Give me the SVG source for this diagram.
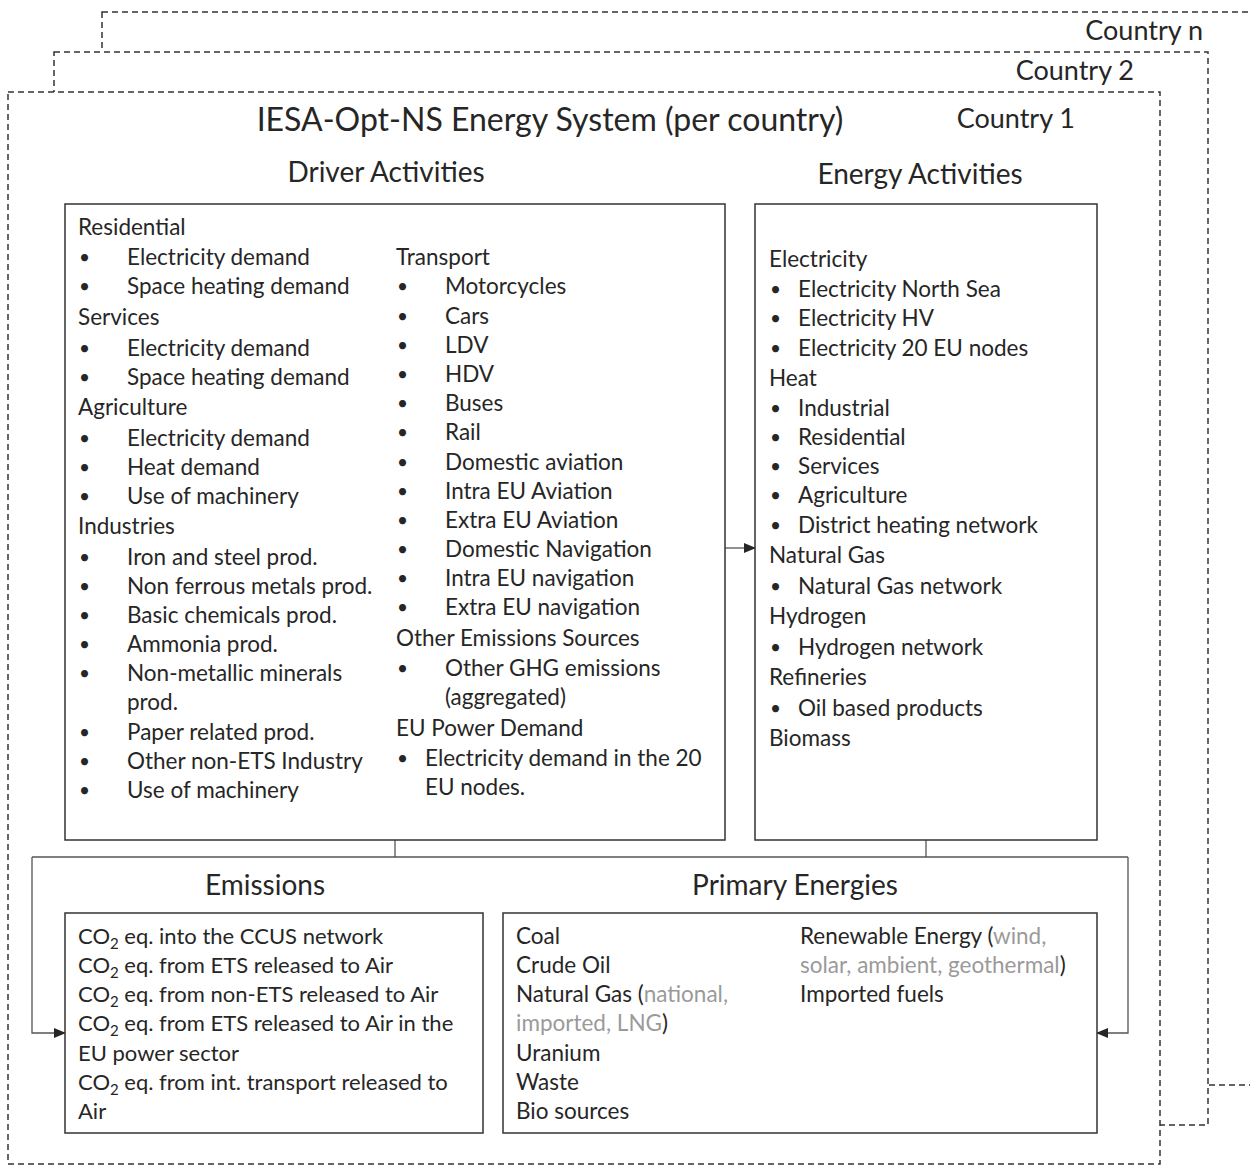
<svg xmlns="http://www.w3.org/2000/svg" width="1250" height="1166" viewBox="0 0 1250 1166">
<style>
text{font-family:Lato,"Noto Sans",sans-serif;fill:#262626;font-size:22.5px}
.b{font-size:19px}
.e{font-size:22px}
.sec{font-size:28px}
.title{font-size:32px}
.cty{font-size:27px}
.g{fill:#9a9a9a}
.dash{fill:#fff;stroke:#333;stroke-width:1.5;stroke-dasharray:6 4}
.box{fill:#fff;stroke:#333;stroke-width:1.5}
.con{fill:none;stroke:#555;stroke-width:1.3}
</style>
<defs>
<marker id="ah" markerWidth="12" markerHeight="10" refX="11" refY="5" orient="auto" markerUnits="userSpaceOnUse">
<path d="M0,0 L12,5 L0,10 Z" fill="#262626"/>
</marker>
</defs>
<g id="country-n">
<rect class="dash" x="102" y="12" width="1200" height="1073"/>
<text class="cty" x="1203" y="40" text-anchor="end">Country n</text>
</g>
<g id="country-2">
<rect class="dash" x="54" y="52" width="1154" height="1073"/>
<text class="cty" x="1134" y="80" text-anchor="end">Country 2</text>
</g>
<g id="country-1">
<rect class="dash" x="8" y="92" width="1152" height="1072"/>
<text class="cty" x="1075" y="128" text-anchor="end">Country 1</text>
<text class="title" x="550" y="131" text-anchor="middle">IESA-Opt-NS Energy System (per country)</text>
</g>
<g id="connectors">
<line class="con" x1="725" y1="548" x2="755" y2="548" marker-end="url(#ah)"/>
<polyline class="con" points="395,840 395,857"/>
<polyline class="con" points="926,840 926,857"/>
<polyline class="con" points="32,857 1128,857"/>
<polyline class="con" points="32,857 32,1033 65,1033" marker-end="url(#ah)"/>
<polyline class="con" points="1128,857 1128,1033 1097,1033" marker-end="url(#ah)"/>
</g>
<g id="driver-activities">
<text class="sec" x="386" y="182" text-anchor="middle">Driver Activities</text>
<rect class="box" x="65" y="204" width="660" height="636"/>
<text x="78" y="235">Residential</text>
<text class="b" x="79" y="264">•</text><text x="127" y="265">Electricity demand</text>
<text class="b" x="79" y="293">•</text><text x="127" y="294">Space heating demand</text>
<text x="78" y="325">Services</text>
<text class="b" x="79" y="355">•</text><text x="127" y="356">Electricity demand</text>
<text class="b" x="79" y="384">•</text><text x="127" y="385">Space heating demand</text>
<text x="78" y="415">Agriculture</text>
<text class="b" x="79" y="445">•</text><text x="127" y="446">Electricity demand</text>
<text class="b" x="79" y="474">•</text><text x="127" y="475">Heat demand</text>
<text class="b" x="79" y="503">•</text><text x="127" y="504">Use of machinery</text>
<text x="78" y="534">Industries</text>
<text class="b" x="79" y="564">•</text><text x="127" y="565">Iron and steel prod.</text>
<text class="b" x="79" y="593">•</text><text x="127" y="594">Non ferrous metals prod.</text>
<text class="b" x="79" y="622">•</text><text x="127" y="623">Basic chemicals prod.</text>
<text class="b" x="79" y="651">•</text><text x="127" y="652">Ammonia prod.</text>
<text class="b" x="79" y="680">•</text><text x="127" y="681">Non-metallic minerals</text>
<text x="127" y="710">prod.</text>
<text class="b" x="79" y="739">•</text><text x="127" y="740">Paper related prod.</text>
<text class="b" x="79" y="768">•</text><text x="127" y="769">Other non-ETS Industry</text>
<text class="b" x="79" y="797">•</text><text x="127" y="798">Use of machinery</text>
<text x="396" y="265">Transport</text>
<text class="b" x="397" y="293">•</text><text x="445" y="294">Motorcycles</text>
<text class="b" x="397" y="323">•</text><text x="445" y="324">Cars</text>
<text class="b" x="397" y="352">•</text><text x="445" y="353">LDV</text>
<text class="b" x="397" y="381">•</text><text x="445" y="382">HDV</text>
<text class="b" x="397" y="410">•</text><text x="445" y="411">Buses</text>
<text class="b" x="397" y="439">•</text><text x="445" y="440">Rail</text>
<text class="b" x="397" y="469">•</text><text x="445" y="470">Domestic aviation</text>
<text class="b" x="397" y="498">•</text><text x="445" y="499">Intra EU Aviation</text>
<text class="b" x="397" y="527">•</text><text x="445" y="528">Extra EU Aviation</text>
<text class="b" x="397" y="556">•</text><text x="445" y="557">Domestic Navigation</text>
<text class="b" x="397" y="585">•</text><text x="445" y="586">Intra EU navigation</text>
<text class="b" x="397" y="614">•</text><text x="445" y="615">Extra EU navigation</text>
<text x="396" y="646">Other Emissions Sources</text>
<text class="b" x="397" y="675">•</text><text x="445" y="676">Other GHG emissions</text>
<text x="445" y="705">(aggregated)</text>
<text x="396" y="736">EU Power Demand</text>
<text class="b" x="397" y="765">•</text><text x="425" y="766">Electricity demand in the 20</text>
<text x="425" y="795">EU nodes.</text>
</g>
<g id="energy-activities">
<text class="sec" x="920" y="184" text-anchor="middle">Energy Activities</text>
<rect class="box" x="755" y="204" width="342" height="636"/>
<text x="769" y="267">Electricity</text>
<text class="b" x="770" y="296">•</text><text x="798" y="297">Electricity North Sea</text>
<text class="b" x="770" y="325">•</text><text x="798" y="326">Electricity HV</text>
<text class="b" x="770" y="355">•</text><text x="798" y="356">Electricity 20 EU nodes</text>
<text x="769" y="386">Heat</text>
<text class="b" x="770" y="415">•</text><text x="798" y="416">Industrial</text>
<text class="b" x="770" y="444">•</text><text x="798" y="445">Residential</text>
<text class="b" x="770" y="473">•</text><text x="798" y="474">Services</text>
<text class="b" x="770" y="502">•</text><text x="798" y="503">Agriculture</text>
<text class="b" x="770" y="532">•</text><text x="798" y="533">District heating network</text>
<text x="769" y="563">Natural Gas</text>
<text class="b" x="770" y="593">•</text><text x="798" y="594">Natural Gas network</text>
<text x="769" y="624">Hydrogen</text>
<text class="b" x="770" y="654">•</text><text x="798" y="655">Hydrogen network</text>
<text x="769" y="685">Refineries</text>
<text class="b" x="770" y="715">•</text><text x="798" y="716">Oil based products</text>
<text x="769" y="746">Biomass</text>
</g>
<g id="emissions">
<text class="sec" x="265" y="895" text-anchor="middle">Emissions</text>
<rect class="box" x="65" y="913" width="418" height="220"/>
<text class="e" x="78" y="944">CO<tspan dy="5" font-size="15">2</tspan><tspan dy="-5"> eq. into the CCUS network</tspan></text>
<text class="e" x="78" y="973">CO<tspan dy="5" font-size="15">2</tspan><tspan dy="-5"> eq. from ETS released to Air</tspan></text>
<text class="e" x="78" y="1002">CO<tspan dy="5" font-size="15">2</tspan><tspan dy="-5"> eq. from non-ETS released to Air</tspan></text>
<text class="e" x="78" y="1031">CO<tspan dy="5" font-size="15">2</tspan><tspan dy="-5"> eq. from ETS released to Air in the</tspan></text>
<text class="e" x="78" y="1061">EU power sector</text>
<text class="e" x="78" y="1090">CO<tspan dy="5" font-size="15">2</tspan><tspan dy="-5"> eq. from int. transport released to</tspan></text>
<text class="e" x="78" y="1119">Air</text>
</g>
<g id="primary-energies">
<text class="sec" x="795" y="895" text-anchor="middle">Primary Energies</text>
<rect class="box" x="503" y="913" width="594" height="220"/>
<text x="516" y="944">Coal</text>
<text x="516" y="973">Crude Oil</text>
<text x="516" y="1002">Natural Gas (<tspan class="g">national,</tspan></text>
<text x="516" y="1031"><tspan class="g">imported, LNG</tspan>)</text>
<text x="516" y="1061">Uranium</text>
<text x="516" y="1090">Waste</text>
<text x="516" y="1119">Bio sources</text>
<text x="800" y="944">Renewable Energy (<tspan class="g">wind,</tspan></text>
<text x="800" y="973"><tspan class="g">solar, ambient, geothermal</tspan>)</text>
<text x="800" y="1002">Imported fuels</text>
</g>
</svg>
